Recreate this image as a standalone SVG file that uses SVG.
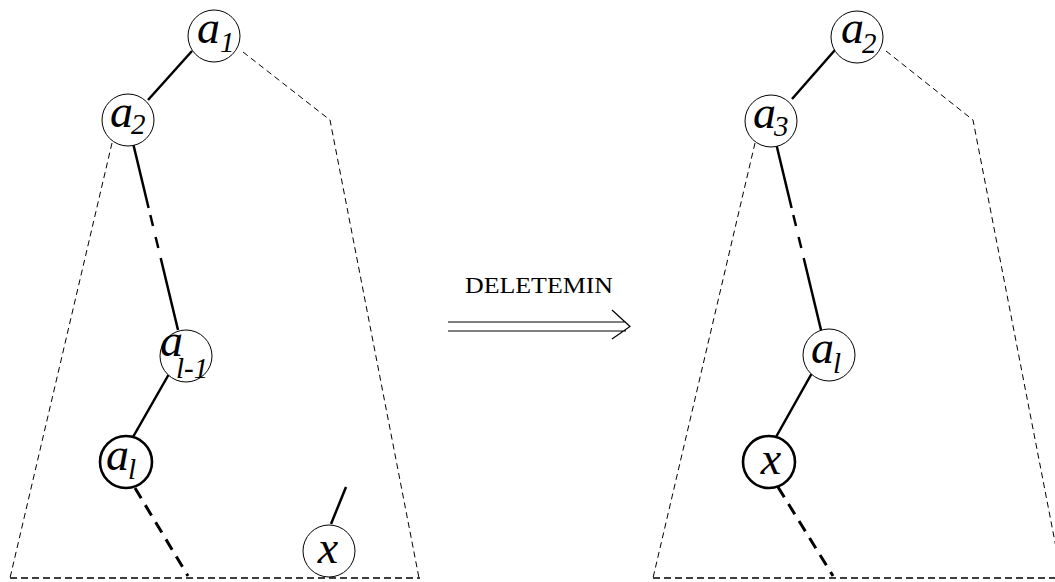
<svg xmlns="http://www.w3.org/2000/svg" width="1055" height="582" viewBox="0 0 1055 582">
<style>
.bg{fill:#fff}
.node{fill:#fff;stroke:#000;stroke-width:1}
.node.thick{stroke-width:2.6}
.lbl{font-family:"Liberation Serif",serif;font-style:italic;font-size:46px;fill:#000}
.sub{font-size:29px}
.edge{stroke:#000;stroke-width:2.5;fill:none}
.tdash{stroke:#000;stroke-width:3;fill:none;stroke-dasharray:12 8}
.outline{stroke:#000;stroke-width:1;fill:none;stroke-dasharray:6 4}
.base{stroke:#000;stroke-width:1.3;fill:none;stroke-dasharray:7 4}
.arrow{stroke:#000;stroke-width:1.2;fill:none}
.title{font-family:"Liberation Serif",serif;font-size:24px;fill:#000}
</style>
<rect class="bg" x="0" y="0" width="1055" height="582"/>
<g id="connectors">
  <path class="outline" d="M243,52 L330,120 L419,578"/>
  <path class="outline" d="M112,143 L10,578"/>
  <path class="base" d="M10,578 L420,578"/>
  <path class="edge" d="M192,51 L148,100"/>
  <path class="edge" d="M133,143 L148.6,208 M150.3,215 L153,226 M155.6,237 L158.3,248 M160.7,258 L178,330"/>
  <path class="edge" d="M169,374 L133,437"/>
  <path class="tdash" d="M135,488 L188,576"/>
  <path class="edge" d="M331,524 L346,487"/>
  <path class="outline" d="M886,51 L973,120 L1062,578"/>
  <path class="outline" d="M755,143 L653,578"/>
  <path class="base" d="M653,578 L1055,578"/>
  <path class="edge" d="M835,50 L792,99"/>
  <path class="edge" d="M776,143 L791.6,208 M793.3,215 L796,226 M798.6,237 L801.3,248 M803.7,258 L821,330"/>
  <path class="edge" d="M812,373 L776,437"/>
  <path class="tdash" d="M778,487 L833,576"/>
</g>
<g id="transform-arrow">
  <text class="title" x="465" y="293" textLength="148" lengthAdjust="spacingAndGlyphs">DELETEMIN</text>
  <path class="arrow" d="M448,322 L626,322 M448,331 L626,331 M612,310 L630,326.5 L612,339"/>
</g>
<g id="L-a1"><circle class="node" cx="214" cy="36" r="26"/><text class="lbl" x="197" y="43">a</text><text class="lbl sub" x="220" y="52">1</text></g>
<g id="L-a2"><circle class="node" cx="128" cy="120" r="26"/><text class="lbl" x="110" y="127">a</text><text class="lbl sub" x="131" y="134">2</text></g>
<g id="L-al-1"><circle class="node" cx="186" cy="356" r="26"/><text class="lbl" x="160" y="356">a</text><text class="lbl sub" x="176" y="378">l-1</text></g>
<g id="L-al"><circle class="node thick" cx="126" cy="462" r="26"/><text class="lbl" x="106" y="470">a</text><text class="lbl sub" x="128" y="479">l</text></g>
<g id="L-x"><circle class="node" cx="329" cy="551" r="26"/><text class="lbl" x="328" y="563" text-anchor="middle">x</text></g>
<g id="R-a2"><circle class="node" cx="857" cy="37" r="26"/><text class="lbl" x="841" y="43">a</text><text class="lbl sub" x="862" y="53">2</text></g>
<g id="R-a3"><circle class="node" cx="771" cy="121" r="26"/><text class="lbl" x="753" y="128">a</text><text class="lbl sub" x="774" y="136">3</text></g>
<g id="R-al"><circle class="node" cx="829" cy="355" r="26"/><text class="lbl" x="811" y="363">a</text><text class="lbl sub" x="833" y="373">l</text></g>
<g id="R-x"><circle class="node thick" cx="769" cy="462" r="26"/><text class="lbl" x="771" y="474" text-anchor="middle">x</text></g>
</svg>
